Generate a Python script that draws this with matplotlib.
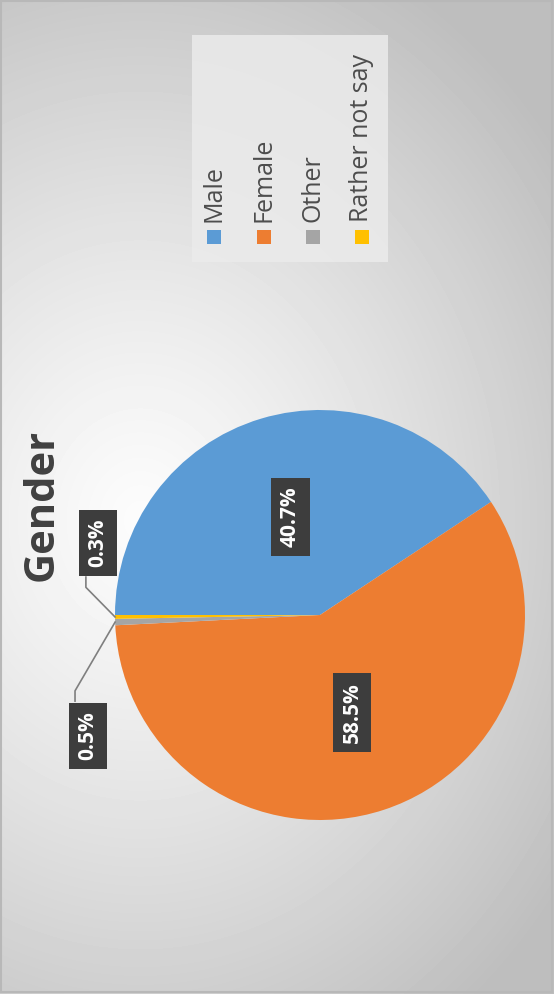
import numpy as np
import matplotlib.pyplot as plt
from matplotlib.patches import Rectangle

labels = ['Male', 'Female', 'Other', 'Rather not say']
shares = [40.7, 58.5, 0.5, 0.3]
colors = ['#5b9bd5', '#ed7d31', '#a5a5a5', '#ffc000']

W, H = 554, 994

def fx(px): return px / W
def fy(py): return 1 - py / H

fig = plt.figure(figsize=(W / 100, H / 100), dpi=100)
plt.rcParams['font.family'] = ['Open Sans', 'DejaVu Sans']

# background gradient
bg = fig.add_axes([0, 0, 1, 1])
yy, xx = np.mgrid[0:H, 0:W]
d = np.sqrt(((xx - 140) / 520.0) ** 2 + ((yy - 520) / 620.0) ** 2)
img = 252 - 62 * np.clip(d, 0, 1) ** 1.2
bg.imshow(img, cmap='gray', vmin=0, vmax=255, extent=[0, W, H, 0], aspect='auto')
bg.add_patch(Rectangle((1, 1), W - 3, H - 3, fill=False, edgecolor='#b8b8b8', lw=1.5))
bg.set_xlim(0, W)
bg.set_ylim(H, 0)
bg.axis('off')

# pie
cx, cy, r = 320, 615, 205
ax = fig.add_axes([fx(cx - r), fy(cy + r), 2 * r / W, 2 * r / H])
wedges, _ = ax.pie(shares, colors=colors, startangle=180, counterclock=False,
                   wedgeprops=dict(linewidth=0))
ax.set_xlim(-1, 1)
ax.set_ylim(-1, 1)
ax.set_aspect('equal')

box = dict(boxstyle='square,pad=0.42', facecolor='#3d3d3d', edgecolor='none')

# labels inside big slices
for w, v in zip(wedges[:2], shares[:2]):
    a = np.deg2rad((w.theta1 + w.theta2) / 2)
    ax.text(0.5 * np.cos(a), 0.5 * np.sin(a), f'{v}%', rotation=90, color='white',
            fontsize=15, fontweight='bold', ha='center', va='center', bbox=box)

# small slices with leader lines
outer = {2: ((-1.132, -0.59), (-1.195, -0.37)), 3: ((-1.083, 0.351), (-1.142, 0.135))}
for i, (pos, knee) in outer.items():
    w = wedges[i]
    a = np.deg2rad((w.theta1 + w.theta2) / 2)
    ex, ey = np.cos(a), np.sin(a)
    ax.text(pos[0], pos[1], f'{shares[i]}%', rotation=90, color='white',
            fontsize=15, fontweight='bold', ha='center', va='center', bbox=box)
    kx, ky = knee
    side = 1 if ky > 0 else -1
    ax.plot([kx, kx, ex], [ky + side * 0.05, ky, ey], color='#7f7f7f', lw=1.2,
            clip_on=False, zorder=1)

# title
fig.text(fx(42), fy(505), 'Gender', rotation=90, fontsize=30, fontweight='bold',
         color='#404040', ha='center', va='center')

# legend
fig.patches.append(Rectangle((fx(192), fy(262)), fx(388) - fx(192), fy(35) - fy(262),
                             transform=fig.transFigure, facecolor='#ebebeb',
                             edgecolor='none', alpha=0.85))
xs = [214, 264, 313, 362]
for x, lab, c in zip(xs, labels, colors):
    fig.patches.append(Rectangle((fx(x - 7), fy(244)), 14 / W, 14 / H,
                                 transform=fig.transFigure, facecolor=c, edgecolor='none'))
    fig.text(fx(x), fy(222), lab, rotation=90, fontsize=18, color='#4d4d4d',
             ha='center', va='bottom')

fig.savefig('out.png', dpi=100)
